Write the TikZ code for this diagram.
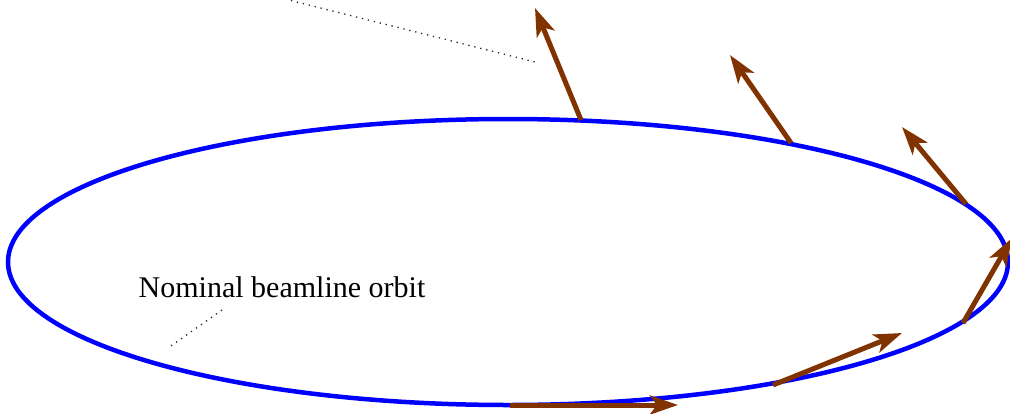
\documentclass[tikz,border=0pt]{standalone}
\usepackage{fontspec}
\setmainfont{Liberation Serif}
\usepackage{xcolor}
\usetikzlibrary{positioning, arrows.meta}
\definecolor{kickbrown}{RGB}{128,51,0}

\begin{document}
\begin{tikzpicture}[
    x=1pt, y=-1pt,
    orbit/.style={draw=blue, line width=4.5pt},
    kick/.style={-{Stealth[length=28pt, width=19pt, inset=7pt]}, draw=kickbrown, line width=5pt},
    pointer/.style={dash pattern=on 1.3pt off 4.8pt, line width=1.3pt, black!85}
]
\useasboundingbox (0,0) rectangle (1010,413);
\draw[orbit] (508,262) ellipse [x radius=500, y radius=143];
% points on the orbit and where the kicks point
\coordinate (p1) at (581,120);  \coordinate (t1) at (535,8);
\coordinate (p2) at (791,143);  \coordinate (t2) at (730,55);
\coordinate (p3) at (966,204);  \coordinate (t3) at (902,127);
\coordinate (p4) at (963,323);  \coordinate (t4) at (1012,238);
\coordinate (p5) at (773,385);  \coordinate (t5) at (902,333);
\coordinate (p6) at (510,405);  \coordinate (t6) at (678,405);
\foreach \i in {1,...,6}
    \draw[kick] (p\i) -- (t\i);
\node[font=\fontsize{30}{36}\selectfont] (lbl) at (282,287) {Nominal beamline orbit};
\coordinate (lblend) at (168,348);
\draw[pointer] (222,310) -- (lblend);
\coordinate (topstart) at (285,-1);
\coordinate (topend) at (535,62);
\draw[pointer] (topstart) -- (topend);
\end{tikzpicture}
\end{document}
